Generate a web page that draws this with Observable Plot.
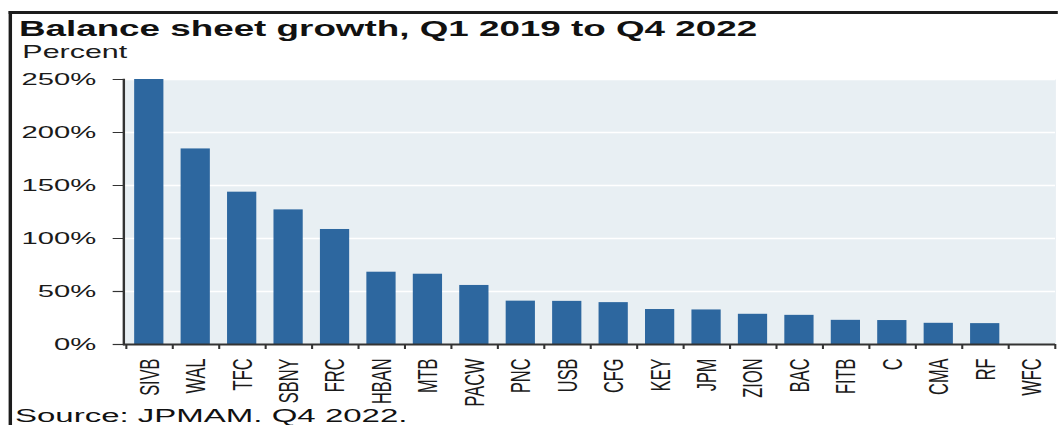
<!DOCTYPE html>
<html>
<head>
<meta charset="utf-8">
<script src="https://cdn.jsdelivr.net/npm/d3@7"></script>
<script src="https://cdn.jsdelivr.net/npm/@observablehq/plot@0.6"></script>
<style>
  html, body { margin: 0; padding: 0; background: #fff; overflow: hidden; }
  body { width: 1058px; height: 425px; position: relative; font-family: "Liberation Sans", Arial, sans-serif; color: #111; }
  #wrap { position: absolute; left: 0; top: 0; width: 615px; height: 425px; transform: scaleX(1.72); transform-origin: 0 0; }
  #border { position: absolute; left: 4.7px; top: 11px; right: 0; height: 430px; border-top: 3px solid #1c1c1c; border-left: 2px solid #1c1c1c; }
  #title { position: absolute; left: 11px; top: 19px; font-size: 21.4px; font-weight: bold; line-height: 1; white-space: nowrap; color: #111; }
  #subtitle { position: absolute; left: 13px; top: 44.3px; font-size: 17.7px; line-height: 1; white-space: nowrap; color: #1a1a1a; }
  #chart { position: absolute; left: 0; top: 62px; }
  #source { position: absolute; left: 8.7px; top: 405.7px; font-size: 19.2px; line-height: 1; white-space: nowrap; color: #111; }
</style>
</head>
<body>
<div id="wrap">
  <div id="border"></div>
  <div id="title">Balance sheet growth, Q1 2019 to Q4 2022</div>
  <div id="subtitle">Percent</div>
  <div id="chart"></div>
  <div id="source">Source: JPMAM. Q4 2022.</div>
</div>
<script>
const banks = ["SIVB","WAL","TFC","SBNY","FRC","HBAN","MTB","PACW","PNC","USB","CFG","KEY","JPM","ZION","BAC","FITB","C","CMA","RF","WFC"];
const growth = [250,184.5,143.7,127,108.5,68.2,66.3,55.7,40.9,40.7,39.5,33,32.6,28.5,27.5,22.8,22.6,20,19.7,0];
const yTicks = [0,50,100,150,200,250];

const data = banks.map((b, i) => ({bank: b, value: growth[i]}));

const W = 615, H = 345, ml = 71.5, mr = 1.6, mt = 17, mb = 63;
const step = (W - ml - mr) / banks.length;

const chart = Plot.plot({
  width: W,
  height: H,
  marginLeft: ml,
  marginRight: mr,
  marginTop: mt,
  marginBottom: mb,
  style: {fontFamily: "'Liberation Sans', Arial, sans-serif", color: "#1a1a1a", background: "transparent"},
  x: {domain: banks, paddingInner: 0.38, paddingOuter: 0.19, axis: null},
  y: {domain: [0, 250], axis: null},
  marks: [
    Plot.frame({fill: "#e8eff3", stroke: null}),
    Plot.gridY(yTicks.slice(1), {stroke: "#ffffff", strokeOpacity: 1, strokeWidth: 1.5}),
    Plot.barY(data, {x: "bank", y: "value", fill: "#2d679f"}),
    Plot.axisY(yTicks, {tickFormat: d => d + "%", tickSize: 6, tickPadding: 10, fontSize: 17, label: null, stroke: "#333", strokeWidth: 1.2}),
    Plot.axisX({tickSize: 0, tickPadding: 14, tickRotate: -90, fontSize: 16.4, label: null}),
    Plot.axisX({tickSize: 5, tickFormat: () => "", dx: -step / 2, label: null, stroke: "#333", strokeWidth: 1.2}),
    Plot.axisX([banks[banks.length - 1]], {tickSize: 5, tickFormat: () => "", dx: step / 2, label: null, stroke: "#333", strokeWidth: 1.2}),
    Plot.frame({anchor: "left", stroke: "#333", strokeWidth: 1.4}),
    Plot.ruleY([0], {stroke: "#333", strokeWidth: 2})
  ]
});
document.getElementById("chart").appendChild(chart);
</script>
</body>
</html>
